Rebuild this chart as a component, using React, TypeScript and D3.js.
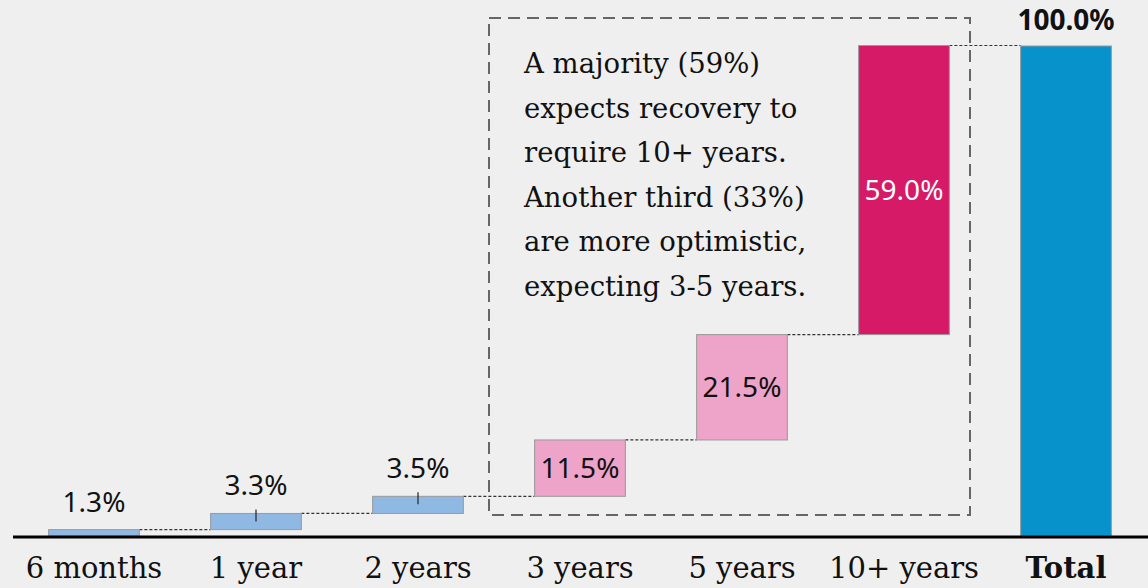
import React, { useEffect, useRef } from "react";
import * as d3 from "d3";

const categories = ["6 months", "1 year", "2 years", "3 years", "5 years", "10+ years", "Total"];
const values = [1.3, 3.3, 3.5, 11.5, 21.5, 59.0, 100.0];
const barColors = ["#8fb9e2", "#8fb9e2", "#8fb9e2", "#eea3c8", "#eea3c8", "#d61a68", "#0892cb"];
const labelInside = [false, false, false, true, true, true, false];
const errorMark = [false, true, true, false, false, false, false];
const note = [
  "A majority (59%)",
  "expects recovery to",
  "require 10+ years.",
  "Another third (33%)",
  "are more optimistic,",
  "expecting 3-5 years.",
];

const W = 1148;
const H = 588;

const App = () => {
  const svgRef = useRef<SVGSVGElement>(null);

  useEffect(() => {
    const svg = d3.select(svgRef.current);
    svg.selectAll("*").remove();

    const baseY = 536;
    const x = d3.scaleBand<string>()
      .domain(categories)
      .range([13, 1147])
      .paddingInner(0.44)
      .paddingOuter(0.22);
    const y = d3.scaleLinear().domain([0, 100]).range([baseY, 46]);

    // waterfall start / end
    let run = 0;
    const bars = categories.map((c, i) => {
      const isTotal = c === "Total";
      const start = isTotal ? 0 : run;
      const end = isTotal ? values[i] : run + values[i];
      if (!isTotal) run = end;
      return { c, i, start, end, v: values[i] };
    });

    svg.append("rect").attr("width", W).attr("height", H).attr("fill", "#efefef");

    // annotation box
    svg.append("rect")
      .attr("x", 489).attr("y", 18)
      .attr("width", 481).attr("height", 497)
      .attr("fill", "none")
      .attr("stroke", "#666")
      .attr("stroke-width", 2)
      .attr("stroke-dasharray", "12,7");

    const noteText = svg.append("text")
      .attr("x", 524)
      .attr("y", 73)
      .style("font-family", "'DejaVu Serif', serif")
      .style("font-size", "27.5px")
      .style("fill", "#111");
    note.forEach((line, k) => {
      noteText.append("tspan").attr("x", 524).attr("y", 73 + k * 44.5).text(line);
    });

    // connectors
    bars.slice(0, -1).forEach((b) => {
      const next = categories[b.i + 1];
      svg.append("line")
        .attr("x1", x(b.c)! + x.bandwidth())
        .attr("x2", x(next)!)
        .attr("y1", y(b.end))
        .attr("y2", y(b.end))
        .attr("stroke", "#333")
        .attr("stroke-width", 1.2)
        .attr("stroke-dasharray", "3,2");
    });

    // bars
    svg.selectAll("rect.bar")
      .data(bars)
      .join("rect")
      .attr("class", "bar")
      .attr("x", (d) => x(d.c)!)
      .attr("y", (d) => y(d.end))
      .attr("width", x.bandwidth())
      .attr("height", (d) => y(d.start) - y(d.end))
      .attr("fill", (d) => barColors[d.i])
      .attr("stroke", "#999")
      .attr("stroke-width", 1);

    // small error-like marks
    bars.filter((d) => errorMark[d.i]).forEach((d) => {
      const cx = x(d.c)! + x.bandwidth() / 2;
      svg.append("line")
        .attr("x1", cx).attr("x2", cx)
        .attr("y1", y(d.end) - 4)
        .attr("y2", y(d.end) + 8)
        .attr("stroke", "#222")
        .attr("stroke-width", 1.2);
    });

    // value labels
    bars.forEach((d) => {
      const cx = x(d.c)! + x.bandwidth() / 2;
      const isTotal = d.c === "Total";
      const inside = labelInside[d.i];
      const ty = inside ? (y(d.start) + y(d.end)) / 2 : y(d.end) - (isTotal ? 16 : 18);
      svg.append("text")
        .attr("x", cx)
        .attr("y", ty)
        .attr("text-anchor", "middle")
        .attr("dy", inside ? "0.35em" : "0")
        .style("font-family", "'Noto Sans', sans-serif")
        .style("font-size", isTotal ? "28px" : "28px")
        .style("font-weight", isTotal ? "bold" : "normal")
        .style("fill", d.c === "10+ years" ? "#fff" : "#111")
        .text(d.v.toFixed(1) + "%");
    });

    // axis
    svg.append("line")
      .attr("x1", 13).attr("x2", W)
      .attr("y1", baseY + 1).attr("y2", baseY + 1)
      .attr("stroke", "#000")
      .attr("stroke-width", 3);

    svg.selectAll("text.cat")
      .data(categories)
      .join("text")
      .attr("class", "cat")
      .attr("x", (c) => x(c)! + x.bandwidth() / 2)
      .attr("y", 578)
      .attr("text-anchor", "middle")
      .style("font-family", "'DejaVu Serif', serif")
      .style("font-size", "29px")
      .style("font-weight", (c) => (c === "Total" ? "bold" : "normal"))
      .style("fill", "#111")
      .text((c) => c);
  }, []);

  return (
    <div style={{ position: "fixed", left: 0, top: 0 }}>
      <svg ref={svgRef} width={W} height={H} style={{ display: "block" }}></svg>
    </div>
  );
};

export default App;
